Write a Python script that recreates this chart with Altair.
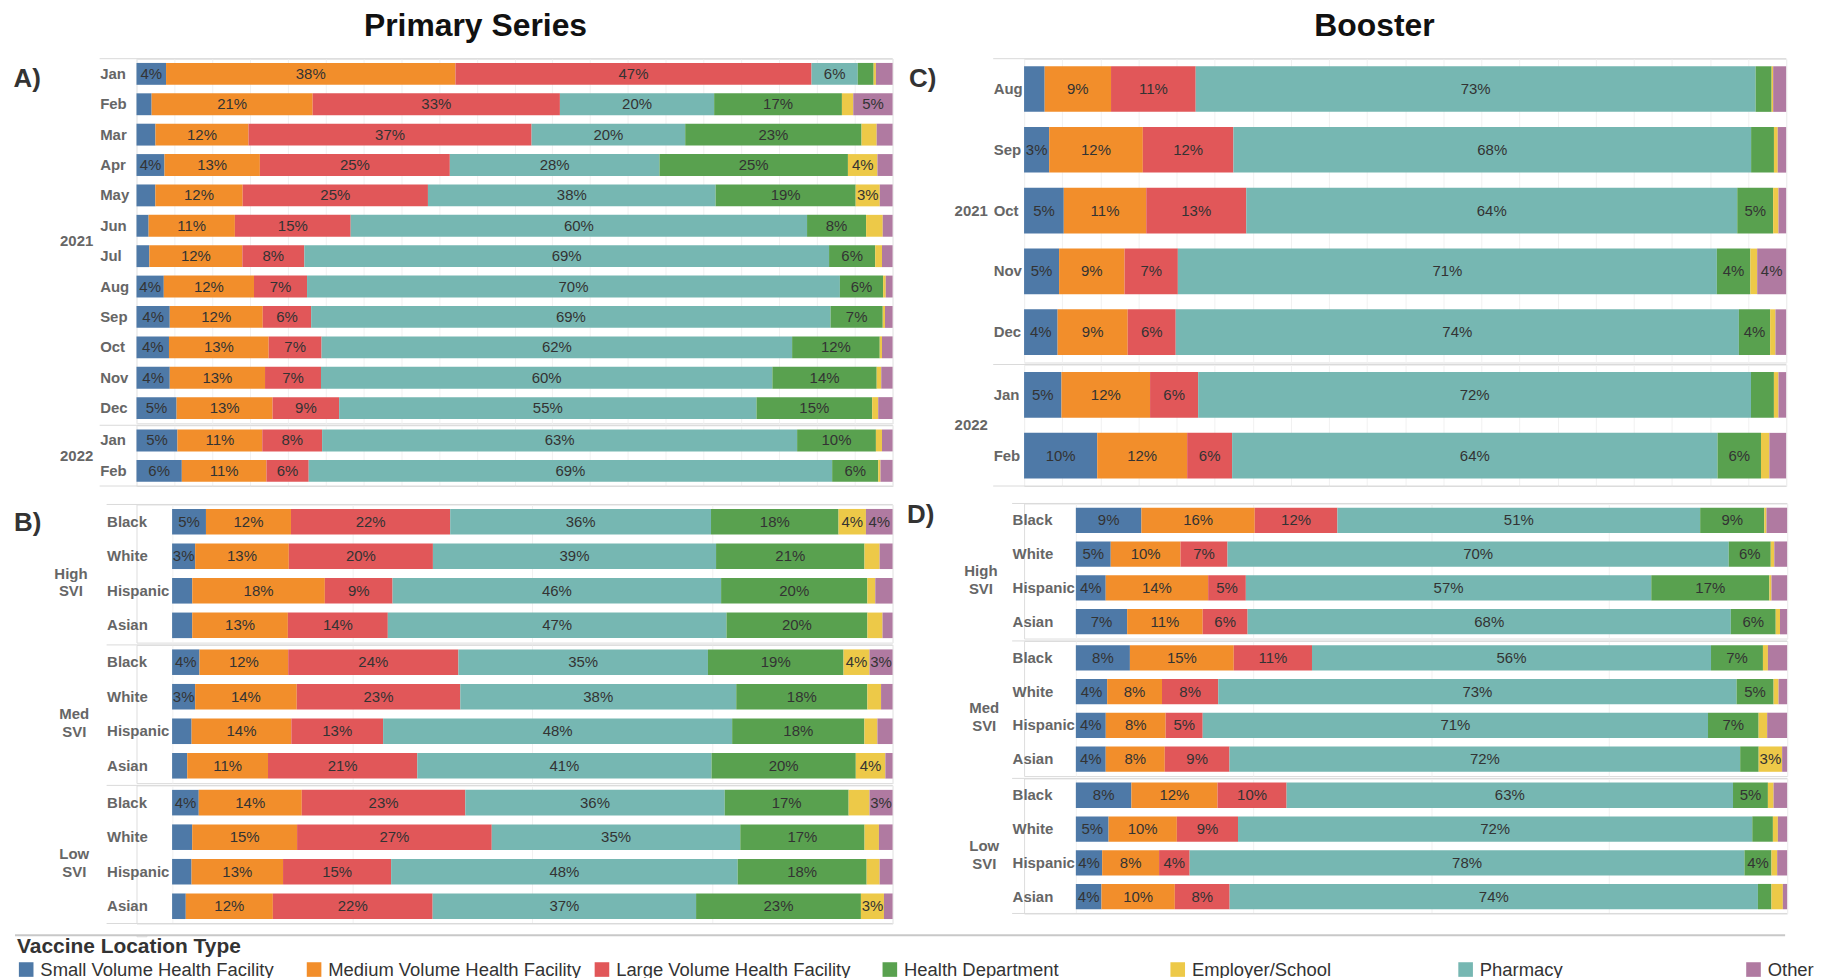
import math
import altair as alt
import pandas as pd

FONT = "Liberation Sans"
LABEL_GRAY = "#666666"
TEXT_DARK = "#333333"
LINE_GRAY = "#dadada"
GRID_GRAY = "#f1f1f1"

STACK_TYPES = ["Small Volume Health Facility", "Medium Volume Health Facility",
               "Large Volume Health Facility", "Pharmacy", "Health Department",
               "Employer/School", "Other"]
LEGEND_TYPES = ["Small Volume Health Facility", "Medium Volume Health Facility",
                "Large Volume Health Facility", "Health Department",
                "Employer/School", "Pharmacy", "Other"]
LEGEND_COLORS = ["#4e79a7", "#f28e2b", "#e15759", "#59a14f", "#edc948", "#76b7b2", "#b07aa1"]

MONTHS = ["Jan", "Feb", "Mar", "Apr", "May", "Jun", "Jul", "Aug", "Sep", "Oct", "Nov", "Dec"]
BOOST_MONTHS = ["Aug", "Sep", "Oct", "Nov", "Dec", "Jan", "Feb"]
RACES = ["Black", "White", "Hispanic", "Asian"]
SVI = ["High SVI", "Med SVI", "Low SVI"]
YEARS = ["2021", "2022"]

# ---------------- A) Primary series by month ----------------
A_groups = ["2021"] * 12 + ["2022"] * 2
A_rows = MONTHS + ["Jan", "Feb"]
A_small = [3.9, 2.0, 2.5, 3.7, 2.5, 1.6, 1.7, 3.6, 4.4, 4.3, 4.4, 5.3, 5.4, 6.0]
A_medium = [38.2, 21.3, 12.3, 12.6, 11.6, 11.4, 12.3, 11.9, 12.3, 13.2, 12.6, 12.7, 11.2, 11.2]
A_large = [47.0, 32.7, 37.4, 25.1, 24.6, 15.3, 8.2, 7.0, 6.4, 7.0, 7.4, 8.8, 7.9, 5.6]
A_pharmacy = [6.1, 20.4, 20.3, 27.7, 38.2, 60.3, 69.4, 70.3, 68.7, 62.3, 59.7, 55.2, 62.7, 69.3]
A_health = [2.1, 16.9, 23.3, 24.9, 18.6, 7.8, 6.1, 5.7, 6.9, 11.6, 13.8, 15.3, 10.4, 6.1]
A_employer = [0.3, 1.5, 2.0, 3.9, 3.2, 2.2, 0.9, 0.35, 0.3, 0.3, 0.6, 0.8, 0.8, 0.3]
A_other = [2.2, 5.2, 2.1, 2.0, 1.7, 1.3, 1.4, 0.9, 1.0, 1.4, 1.5, 1.9, 1.4, 1.6]

# ---------------- B) Primary series by SVI and race ----------------
B_groups = ["High SVI"] * 4 + ["Med SVI"] * 4 + ["Low SVI"] * 4
B_rows = RACES * 3
B_small = [4.7, 3.2, 2.8, 2.8, 3.8, 3.2, 2.7, 2.1, 3.7, 2.8, 2.7, 1.9]
B_medium = [11.8, 13.0, 18.4, 13.3, 12.3, 14.1, 13.8, 11.2, 14.3, 14.6, 12.7, 12.1]
B_large = [22.1, 20.0, 9.4, 13.9, 23.6, 22.7, 12.7, 20.7, 22.7, 27.1, 15.0, 22.2]
B_pharmacy = [36.2, 39.3, 45.6, 47.1, 34.6, 38.3, 48.3, 40.8, 36.0, 34.6, 48.1, 36.6]
B_health = [17.7, 20.6, 20.3, 19.6, 18.8, 18.2, 18.3, 20.0, 17.2, 17.3, 17.9, 22.9]
B_employer = [3.8, 2.1, 1.1, 2.1, 3.6, 1.9, 1.8, 4.1, 2.9, 2.0, 1.8, 3.2]
B_other = [3.7, 1.8, 2.4, 1.4, 3.2, 1.6, 2.1, 1.0, 3.2, 1.9, 1.8, 1.2]

# ---------------- C) Booster by month ----------------
C_groups = ["2021"] * 5 + ["2022"] * 2
C_rows = BOOST_MONTHS
C_small = [2.7, 3.3, 5.2, 4.6, 4.4, 4.9, 9.6]
C_medium = [8.7, 12.3, 10.8, 8.6, 9.2, 11.6, 11.8]
C_large = [11.1, 11.9, 13.1, 7.0, 6.3, 6.3, 5.9]
C_pharmacy = [73.4, 68.0, 64.3, 70.8, 73.9, 72.4, 63.7]
C_health = [2.1, 3.0, 4.7, 4.4, 4.1, 3.0, 5.7]
C_employer = [0.2, 0.5, 0.7, 0.9, 0.7, 0.6, 1.1]
C_other = [1.7, 1.1, 1.0, 3.8, 1.4, 1.0, 2.2]

# ---------------- D) Booster by SVI and race ----------------
D_groups = ["High SVI"] * 4 + ["Med SVI"] * 4 + ["Low SVI"] * 4
D_rows = RACES * 3
D_small = [9.2, 4.9, 4.2, 7.2, 7.6, 4.4, 4.2, 4.2, 7.8, 4.6, 3.7, 3.6]
D_medium = [15.9, 9.8, 14.4, 10.6, 14.6, 7.7, 8.4, 8.3, 12.1, 9.6, 8.0, 10.3]
D_large = [11.6, 6.6, 5.3, 6.3, 11.0, 7.9, 5.2, 9.1, 9.7, 8.6, 4.3, 7.7]
D_pharmacy = [50.9, 70.4, 57.0, 67.8, 56.1, 72.8, 70.9, 71.8, 62.7, 72.3, 78.0, 74.2]
D_health = [9.0, 5.9, 16.6, 6.3, 7.3, 5.2, 7.1, 2.6, 4.9, 2.9, 3.8, 1.9]
D_employer = [0.3, 0.5, 0.3, 0.6, 0.7, 0.7, 1.2, 3.3, 0.8, 0.7, 0.8, 1.6]
D_other = [2.9, 1.8, 2.2, 1.0, 2.7, 1.2, 2.8, 0.7, 1.9, 1.3, 1.4, 0.6]


def build(groups, rows, series):
    recs = []
    seen = set()
    for i, (g, r) in enumerate(zip(groups, rows)):
        vals = [s[i] for s in series]
        tot = float(sum(vals))
        first = g not in seen
        seen.add(g)
        c = 0.0
        for k, (t, v) in enumerate(zip(STACK_TYPES, vals)):
            x0 = c / tot
            c += v
            x1 = c / tot
            lab = "%d%%" % int(math.floor(v + 0.5)) if v >= 3.1 else ""
            recs.append({"group": g, "row": r, "type": t, "order": k, "value": v,
                         "x0": x0, "x1": x1, "xm": (x0 + x1) / 2, "label": lab,
                         "first": bool(first and k == 0)})
    return pd.DataFrame(recs)


LEGEND = alt.Legend(
    title="Vaccine Location Type", orient="none", legendX=-120, legendY=881,
    direction="horizontal",
    columns=7, gridAlign="all", columnPadding=11, symbolType="square",
    symbolSize=215, symbolStrokeWidth=0, labelOffset=5, labelFont=FONT,
    labelFontSize=18.5, labelColor=TEXT_DARK, labelLimit=400, titleFont=FONT,
    titleFontSize=21, titleFontWeight="bold", titleColor=TEXT_DARK, titleLimit=600,
    titleOrient="top", titleAnchor="start", titlePadding=3, padding=0)


def panel(df, row_sort, group_sort, width, step, pad, grid_vals, dom0, letter,
          axis_pad, svi, header_pad, title_pad, letter_drop):
    color = alt.Color("type:N", scale=alt.Scale(domain=LEGEND_TYPES, range=LEGEND_COLORS),
                      legend=LEGEND)
    yaxis = alt.Axis(title=None, ticks=False, domain=False, labelAlign="left",
                     labelPadding=axis_pad, labelFont=FONT, labelFontSize=15,
                     labelFontWeight="bold", labelColor=LABEL_GRAY, labelLimit=200,
                     minExtent=0)
    yscale = alt.Scale(paddingInner=pad, paddingOuter=pad / 2)
    xscale = alt.Scale(domain=[dom0, 1], nice=False, zero=False)
    xaxis = alt.Axis(title=None, labels=False, ticks=False, domain=False,
                     values=grid_vals, gridColor=GRID_GRAY, gridWidth=1)
    bars = alt.Chart().mark_bar().encode(
        x=alt.X("x0:Q", scale=xscale, axis=xaxis),
        x2="x1:Q",
        y=alt.Y("row:N", sort=row_sort, scale=yscale, axis=yaxis),
        color=color,
    )
    text = alt.Chart().mark_text(font=FONT, fontSize=15, color=TEXT_DARK,
                                 baseline="middle", align="center").encode(
        x=alt.X("xm:Q", scale=xscale, axis=xaxis),
        y=alt.Y("row:N", sort=row_sort, scale=yscale, axis=yaxis),
        text="label:N",
    ).transform_filter("datum.label != ''")
    last = group_sort[-1]
    n_last = int(((df["group"] == last) & (df["order"] == 0)).sum())
    top_rule = alt.Chart().mark_rule(color=LINE_GRAY, strokeWidth=1).encode(
        x=alt.value(-axis_pad), x2=alt.value(width), y=alt.value(0)
    ).transform_filter("datum.first")
    bottom_rule = alt.Chart().mark_rule(color=LINE_GRAY, strokeWidth=1).encode(
        x=alt.value(-axis_pad), x2=alt.value(width), y=alt.value(n_last * step)
    ).transform_filter("datum.first && datum.group == '%s'" % last)
    layer = alt.layer(bars, text, top_rule, bottom_rule, data=df).properties(
        width=width, height=alt.Step(step))
    title_text = ["", letter] if letter_drop > 0 else letter
    hdr = dict(title=title_text, titleOrient="left", titleAngle=0, titleAnchor="end",
               titleAlign="left", titleBaseline="top", titleFont=FONT, titleFontSize=26,
               titleFontWeight="bold", titleColor=TEXT_DARK, titlePadding=title_pad,
               labelOrient="left", labelAngle=0, labelFont=FONT, labelFontSize=15,
               labelFontWeight="bold", labelColor=LABEL_GRAY, labelPadding=header_pad)
    if letter_drop > 0:
        hdr.update(titleLineHeight=letter_drop)
    if svi:
        hdr.update(labelAlign="center", labelExpr="split(datum.value, ' ')",
                   labelLineHeight=18)
    else:
        hdr.update(labelAlign="right")
    return layer.facet(
        row=alt.Row("group:N", sort=group_sort, header=alt.Header(**hdr)),
        spacing=0,
    ).resolve_scale(y="independent")


grid5 = [i * 0.05 for i in range(21)]
grid25 = [0, 0.25, 0.5, 0.75, 1.0]

dfA = build(A_groups, A_rows, [A_small, A_medium, A_large, A_pharmacy, A_health, A_employer, A_other])
dfB = build(B_groups, B_rows, [B_small, B_medium, B_large, B_pharmacy, B_health, B_employer, B_other])
dfC = build(C_groups, C_rows, [C_small, C_medium, C_large, C_pharmacy, C_health, C_employer, C_other])
dfD = build(D_groups, D_rows, [D_small, D_medium, D_large, D_pharmacy, D_health, D_employer, D_other])

pA = panel(dfA, MONTHS, YEARS, 759, 30.5, 0.28, grid5, 0.0, "A)", 37, False, -28, 9, 8)
pB = panel(dfB, RACES, SVI, 759, 34.67, 0.26, grid25, -0.0494, "B)", 30, True, 1.5, 2.5, 7)
pC = panel(dfC, BOOST_MONTHS, YEARS, 765, 61, 0.25, grid5, 0.0, "C)", 31, False, -29, 8, 8)
pD = panel(dfD, RACES, SVI, 766, 33.9, 0.25, grid25, -0.0728, "D)", 12, True, -3, 20, 0)

TITLE_KW = dict(font=FONT, fontSize=32, fontWeight="bold", color="#111111",
                anchor="middle", offset=15)

left = alt.vconcat(pA, pB, spacing=16.5,
                   title=alt.TitleParams("Primary Series", dx=22, **TITLE_KW))
right = alt.vconcat(pC, pD, spacing=15.5,
                    title=alt.TitleParams("Booster", dx=27, **TITLE_KW))
top = alt.hconcat(left, right, spacing=13)

sep = alt.Chart(pd.DataFrame({"v": [0]})).mark_rule(color="#c8c8c8", strokeWidth=2).encode(
    x=alt.value(-122), x2=alt.value(1655), y=alt.value(0)
).properties(width=10, height=1)

chart = alt.vconcat(top, sep, spacing=8).configure_view(stroke=None).configure(
    font=FONT).properties(padding={"left": 5, "right": 5, "top": 0, "bottom": 0})

chart.save("out.html", embed_options={"renderer": "svg", "actions": False})
